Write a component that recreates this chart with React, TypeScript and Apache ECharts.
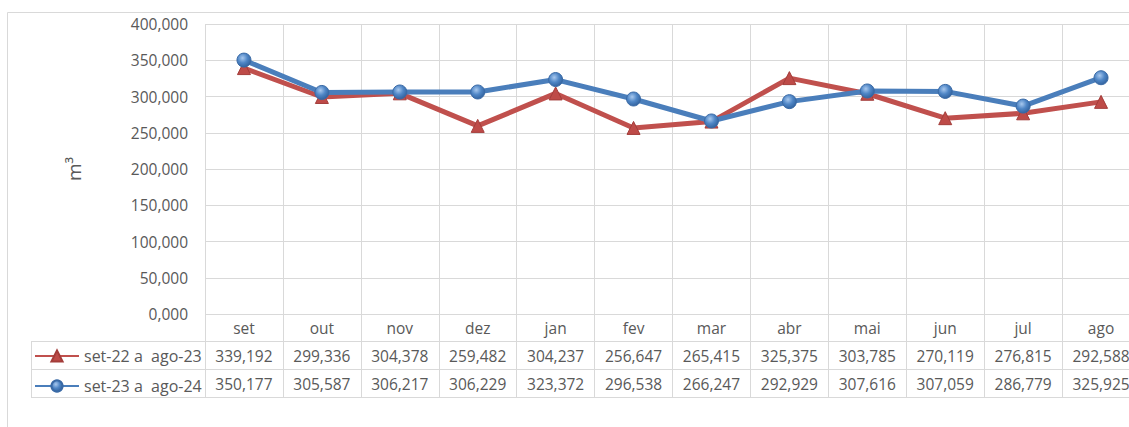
import React, { useEffect, useRef } from "react";
import * as echarts from "echarts";

const categories = ["set", "out", "nov", "dez", "jan", "fev", "mar", "abr", "mai", "jun", "jul", "ago"];
const seriesNames = ["set-22 a  ago-23", "set-23 a  ago-24"];
const values2223 = [339.192, 299.336, 304.378, 259.482, 304.237, 256.647, 265.415, 325.375, 303.785, 270.119, 276.815, 292.588];
const values2324 = [350.177, 305.587, 306.217, 306.229, 323.372, 296.538, 266.247, 292.929, 307.616, 307.059, 286.779, 325.925];
const yMin = 0;
const yMax = 400;
const yInterval = 50;
const yAxisName = "m³";

const fmt = (v: number) => v.toFixed(3).replace(".", ",");

const W = 1165;
const H = 427;
const GRID_LEFT = 205;
const GRID_TOP = 24;
const GRID_RIGHT_X = 1140;
const GRID_BOTTOM_Y = 314;
const ROW_H = 28;
const TABLE_LEFT = 31;
const GRAY = "#d9d9d9";
const TEXT = "#595959";
const FONT = "'Open Sans', 'Noto Sans', sans-serif";
const FS = 15.5;

export default function App() {
  const ref = useRef<HTMLDivElement>(null);
  useEffect(() => {
    if (!ref.current) return;
    const chart = echarts.init(ref.current, undefined, { renderer: "svg" });
    const r1 = GRID_BOTTOM_Y + 27;
    const r2 = r1 + ROW_H;
    const r3 = r2 + ROW_H;
    const hLine = (y: number) => ({
      type: "line",
      shape: { x1: TABLE_LEFT, y1: y + 0.5, x2: W, y2: y + 0.5 },
      style: { stroke: GRAY, lineWidth: 1 },
      silent: true,
    });
    chart.setOption({
      animation: false,
      textStyle: { fontFamily: FONT },
      grid: {
        left: GRID_LEFT,
        top: GRID_TOP,
        right: W - GRID_RIGHT_X,
        bottom: H - GRID_BOTTOM_Y,
        containLabel: false,
      },
      graphic: [
        {
          type: "rect",
          shape: { x: 7.5, y: 12.5, width: 1300, height: 600 },
          style: { fill: "none", stroke: GRAY, lineWidth: 1 },
          silent: true,
          z: -10,
        },
        hLine(r1),
        hLine(r2),
        hLine(r3),
        {
          type: "line",
          shape: { x1: TABLE_LEFT + 0.5, y1: r1, x2: TABLE_LEFT + 0.5, y2: r3 },
          style: { stroke: GRAY, lineWidth: 1 },
          silent: true,
        },
      ],
      legend: {
        orient: "vertical",
        left: TABLE_LEFT + 3,
        top: r1 + 7,
        padding: 0,
        itemGap: ROW_H - 14,
        itemWidth: 44,
        itemHeight: 14,
        textStyle: { fontSize: 16, color: TEXT, fontFamily: FONT },
        data: seriesNames,
      },
      xAxis: {
        type: "category",
        data: categories,
        boundaryGap: true,
        axisLine: { show: false },
        axisTick: {
          show: true,
          length: r3 - GRID_BOTTOM_Y,
          lineStyle: { color: GRAY, width: 1 },
        },
        splitLine: { show: true, lineStyle: { color: GRAY, width: 1 } },
        axisLabel: {
          margin: 0,
          interval: 0,
          fontSize: FS,
          color: TEXT,
          lineHeight: ROW_H,
          fontFamily: FONT,
          formatter: (v: string, i: number) => `${v}\n${fmt(values2223[i])}\n${fmt(values2324[i])}`,
        },
      },
      yAxis: {
        type: "value",
        min: yMin,
        max: yMax,
        interval: yInterval,
        name: yAxisName,
        nameLocation: "middle",
        nameGap: 122,
        nameTextStyle: { fontSize: 19, color: TEXT, fontFamily: FONT },
        axisLine: { show: false },
        axisTick: { show: false },
        axisLabel: { fontSize: FS, color: TEXT, margin: 17, formatter: (v: number) => fmt(v), fontFamily: FONT },
        splitLine: { show: true, lineStyle: { color: GRAY, width: 1 } },
      },
      series: [
        {
          name: seriesNames[0],
          type: "line",
          data: values2223,
          symbol: "triangle",
          symbolSize: 13,
          lineStyle: { color: "#c0504d", width: 5 },
          itemStyle: { color: "#be4b48", borderColor: "#a33d3a", borderWidth: 1 },
          z: 2,
        },
        {
          name: seriesNames[1],
          type: "line",
          data: values2324,
          symbol: "circle",
          symbolSize: 14,
          lineStyle: { color: "#4a7ebb", width: 5 },
          itemStyle: {
            color: {
              type: "radial",
              x: 0.4,
              y: 0.35,
              r: 0.7,
              colorStops: [
                { offset: 0, color: "#a8c8ee" },
                { offset: 0.5, color: "#4f86c6" },
                { offset: 1, color: "#2f5f9a" },
              ],
            },
            borderColor: "#3a6aa6",
            borderWidth: 1,
          },
          z: 3,
        },
      ],
    });
    return () => chart.dispose();
  }, []);
  return (
    <div style={{ position: "fixed", left: 0, top: 0, width: 1129, height: H, overflow: "hidden", background: "#fff" }}>
      <div ref={ref} style={{ width: W, height: H }} />
    </div>
  );
}
